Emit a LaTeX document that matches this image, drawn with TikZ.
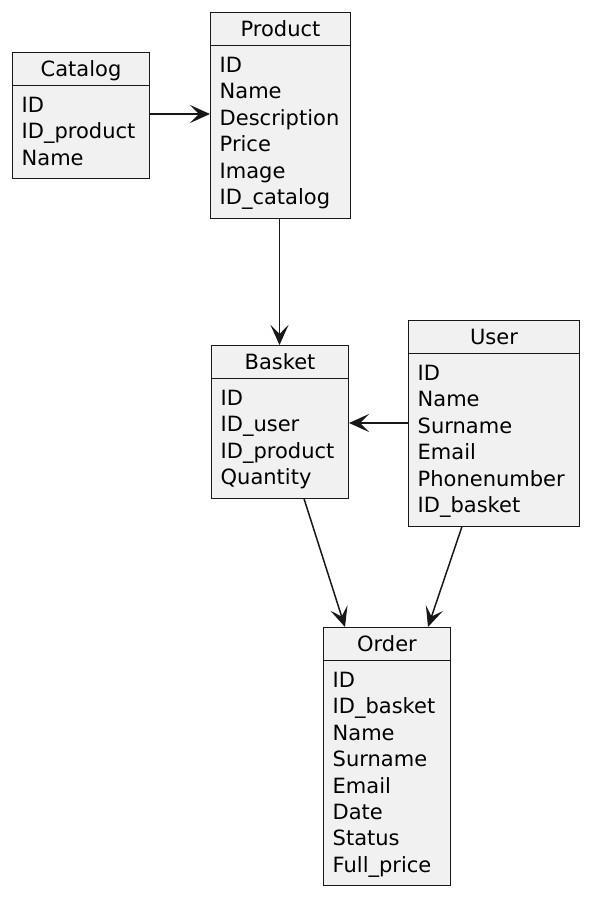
\documentclass[tikz,border=0pt]{standalone}
\usepackage{fontspec}
\setmainfont{DejaVu Sans}
\usetikzlibrary{arrows.meta}
\definecolor{entfill}{HTML}{F1F1F1}
\definecolor{entdraw}{HTML}{181818}
\tikzset{
  entbox/.style={draw=entdraw, fill=entfill, line width=1pt, inner sep=0pt, rectangle},
  entline/.style={draw=entdraw, line width=1pt},
  entitem/.style={inner sep=0pt, font=\fontsize{21}{25}\selectfont, text=black},
  conn/.style={draw=entdraw, line width=1.5pt, -{Stealth[length=20pt, width=18pt, inset=9pt]}}
}
% #1 name, #2 title, #3 left, #4 right, #5 top, #6 number of items, #7 items
\newcommand\umlentity[7]{%
  \pgfmathsetmacro\entw{#4-#3}%
  \pgfmathsetmacro\enth{73.5+(#6-1)*26.4}%
  \node[entbox, anchor=north west, minimum width=\entw pt, minimum height=\enth pt] (#1) at (#3pt,-#5pt) {};
  \node[entitem, anchor=base] (#1-title) at ([yshift=-24.4pt]#1.north) {#2};
  \draw[entline] ([yshift=-33pt]#1.north west) -- ([yshift=-33pt]#1.north east);
  \foreach \t [count=\i from 0] in {#7} {
    \node[entitem, anchor=base west] (#1-\i) at ([xshift=9.5pt,yshift={-(60.5+\i*26.4)*1pt}]#1.north west) {\t};
  }
}
\begin{document}
\begin{tikzpicture}
\useasboundingbox (0,0) rectangle (589pt,-897pt);
\umlentity{catalog}{Catalog}{12}{149}{52}{3}{ID,ID\_product,Name}
\umlentity{product}{Product}{210}{350}{12}{6}{ID,Name,Description,Price,Image,ID\_catalog}
\umlentity{basket}{Basket}{211}{348}{345}{4}{ID,ID\_user,ID\_product,Quantity}
\umlentity{user}{User}{408}{579}{320}{6}{ID,Name,Surname,Email,Phonenumber,ID\_basket}
\umlentity{order}{Order}{323}{450}{627}{8}{ID,ID\_basket,Name,Surname,Email,Date,Status,Full\_price}
\coordinate (ycp) at (0,-114pt);
\coordinate (yub) at (0,-423pt);
\draw[conn] (catalog.east |- ycp) -- (product.west |- ycp);
\draw[conn] ([xshift=-1pt]product.south) -- ([xshift=-1pt]product.south |- basket.north);
\draw[conn] (user.west |- yub) -- (basket.east |- yub);
\draw[conn] ([xshift=93pt]basket.south west) -- ([xshift=22pt]order.north west);
\draw[conn] ([xshift=54pt]user.south west) -- ([xshift=105pt]order.north west);
\end{tikzpicture}
\end{document}
